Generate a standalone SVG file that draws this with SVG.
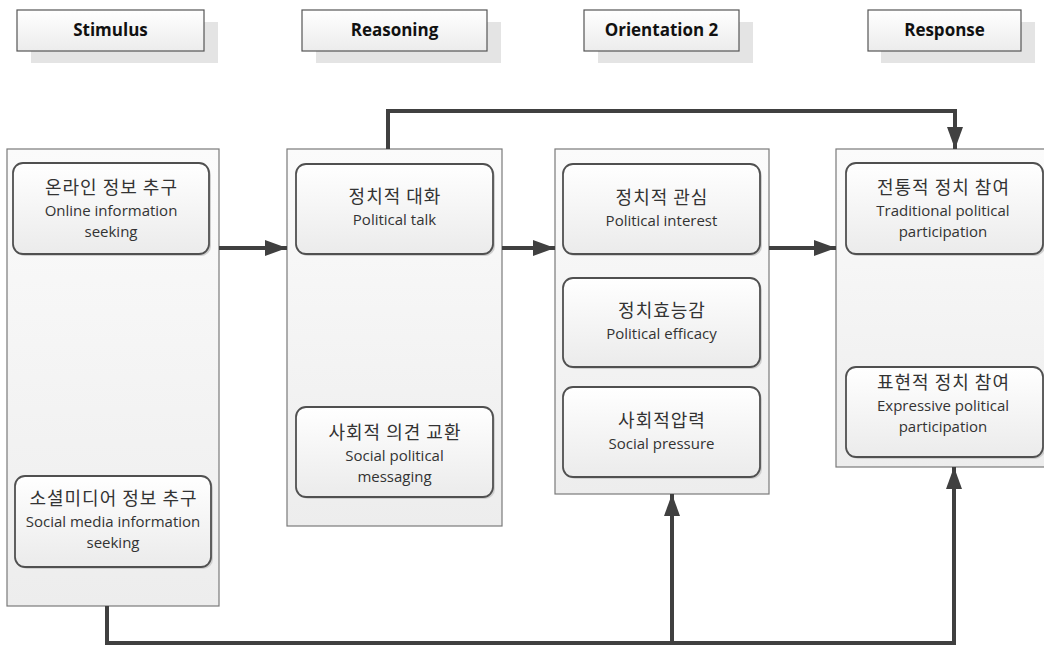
<svg xmlns="http://www.w3.org/2000/svg" width="1044" height="646" viewBox="0 0 1044 646">
<defs>
<linearGradient id="gHead" x1="0" y1="0" x2="0" y2="1"><stop offset="0" stop-color="#ffffff"/><stop offset="1" stop-color="#ececec"/></linearGradient>
<linearGradient id="gPanel" x1="0" y1="0" x2="0" y2="1"><stop offset="0" stop-color="#fbfbfb"/><stop offset="1" stop-color="#ededed"/></linearGradient>
<linearGradient id="gBox" x1="0" y1="0" x2="0" y2="1"><stop offset="0" stop-color="#ffffff"/><stop offset="1" stop-color="#ebebeb"/></linearGradient>
<marker id="arr" markerUnits="userSpaceOnUse" markerWidth="24" markerHeight="18" refX="22" refY="8" orient="auto"><path d="M0,0 L22,8 L0,16 z" fill="#404040"/></marker>
<style>
.shadow{fill:#e4e4e4;}
.head{fill:url(#gHead);stroke:#555;stroke-width:1.2;}
.panel{fill:url(#gPanel);stroke:#7a7a7a;stroke-width:1.2;}
.box{fill:url(#gBox);stroke:#505050;stroke-width:1.8;}
.bshadow{fill:#cfcfcf;}
.ht{font-family:"Open Sans","Liberation Sans",sans-serif;font-weight:bold;font-size:17px;fill:#111;text-anchor:middle;}
.ko{font-family:"Noto Sans CJK KR","Noto Sans",sans-serif;font-size:18px;letter-spacing:1px;fill:#333;text-anchor:middle;}
.en{font-family:"Open Sans","Liberation Sans",sans-serif;font-size:15px;fill:#333;text-anchor:middle;}
.conn{fill:none;stroke:#404040;stroke-width:4;}
</style>
</defs>
<rect width="1044" height="646" fill="#fff"/>

<g id="header-stimulus">
<rect class="shadow" x="31" y="22" width="187" height="41"/>
<rect class="head" x="17" y="10" width="187" height="41"/>
<text class="ht" x="110.5" y="36">Stimulus</text>
</g>
<g id="header-reasoning">
<rect class="shadow" x="316" y="22" width="185" height="41"/>
<rect class="head" x="302" y="10" width="185" height="41"/>
<text class="ht" x="394.5" y="36">Reasoning</text>
</g>
<g id="header-orientation">
<rect class="shadow" x="598" y="22" width="155" height="41"/>
<rect class="head" x="584" y="10" width="155" height="41"/>
<text class="ht" x="661.5" y="36">Orientation 2</text>
</g>
<g id="header-response">
<rect class="shadow" x="881" y="22" width="154" height="41"/>
<rect class="head" x="868" y="10" width="153" height="41"/>
<text class="ht" x="944.5" y="36">Response</text>
</g>

<g id="panel-stimulus">
<rect class="panel" x="7" y="149" width="212" height="457"/>
</g>
<g id="panel-reasoning">
<rect class="panel" x="287" y="149" width="215" height="377"/>
</g>
<g id="panel-orientation">
<rect class="panel" x="555" y="149" width="214" height="345"/>
</g>
<g id="panel-response">
<rect class="panel" x="836" y="149" width="220" height="318"/>
</g>

<g id="online-info">
<rect class="bshadow" x="15" y="165" width="196" height="91" rx="10"/>
<rect class="box" x="13" y="163" width="196" height="91" rx="10"/>
<text class="ko" x="111.5" y="194">온라인 정보 추구</text>
<text class="en" x="111" y="216">Online information</text>
<text class="en" x="111" y="237">seeking</text>
</g>
<g id="social-media-info">
<rect class="bshadow" x="17" y="478" width="196" height="91" rx="10"/>
<rect class="box" x="15" y="476" width="196" height="91" rx="10"/>
<text class="ko" x="113.5" y="505">소셜미디어 정보 추구</text>
<text class="en" x="113" y="527">Social media information</text>
<text class="en" x="113" y="548">seeking</text>
</g>
<g id="political-talk">
<rect class="bshadow" x="298" y="166" width="197" height="90" rx="10"/>
<rect class="box" x="296" y="164" width="197" height="90" rx="10"/>
<text class="ko" x="395" y="203">정치적 대화</text>
<text class="en" x="394.5" y="225">Political talk</text>
</g>
<g id="social-political-messaging">
<rect class="bshadow" x="298" y="409" width="197" height="90" rx="10"/>
<rect class="box" x="296" y="407" width="197" height="90" rx="10"/>
<text class="ko" x="395" y="439">사회적 의견 교환</text>
<text class="en" x="394.5" y="461">Social political</text>
<text class="en" x="394.5" y="482">messaging</text>
</g>
<g id="political-interest">
<rect class="bshadow" x="565" y="166" width="197" height="90" rx="10"/>
<rect class="box" x="563" y="164" width="197" height="90" rx="10"/>
<text class="ko" x="662" y="204">정치적 관심</text>
<text class="en" x="661.5" y="226">Political interest</text>
</g>
<g id="political-efficacy">
<rect class="bshadow" x="565" y="280" width="197" height="89" rx="10"/>
<rect class="box" x="563" y="278" width="197" height="89" rx="10"/>
<text class="ko" x="662" y="317">정치효능감</text>
<text class="en" x="661.5" y="339">Political efficacy</text>
</g>
<g id="social-pressure">
<rect class="bshadow" x="565" y="389" width="197" height="90" rx="10"/>
<rect class="box" x="563" y="387" width="197" height="90" rx="10"/>
<text class="ko" x="662" y="427">사회적압력</text>
<text class="en" x="661.5" y="449">Social pressure</text>
</g>
<g id="traditional-participation">
<rect class="bshadow" x="848" y="165" width="197" height="91" rx="10"/>
<rect class="box" x="846" y="163" width="197" height="91" rx="10"/>
<text class="ko" x="943.5" y="194">전통적 정치 참여</text>
<text class="en" x="943" y="216">Traditional political</text>
<text class="en" x="943" y="237">participation</text>
</g>
<g id="expressive-participation">
<rect class="bshadow" x="848" y="369" width="197" height="90" rx="10"/>
<rect class="box" x="846" y="367" width="197" height="90" rx="10"/>
<text class="ko" x="943.5" y="389">표현적 정치 참여</text>
<text class="en" x="943" y="411">Expressive political</text>
<text class="en" x="943" y="432">participation</text>
</g>

<g id="connectors">
<path class="conn" d="M219,248 H287" marker-end="url(#arr)"/>
<path class="conn" d="M502,248 H555" marker-end="url(#arr)"/>
<path class="conn" d="M769,248 H836" marker-end="url(#arr)"/>
<path class="conn" d="M388,149 V111 H955 V149" marker-end="url(#arr)"/>
<path class="conn" d="M107,606 V643 H954 V467" marker-end="url(#arr)"/>
<path class="conn" d="M672,643 V494" marker-end="url(#arr)"/>
</g>
</svg>
